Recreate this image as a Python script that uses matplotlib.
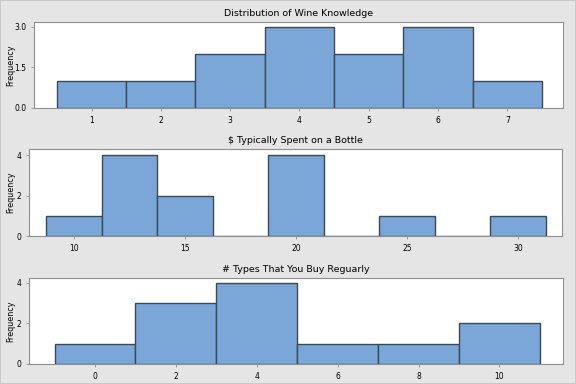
import numpy as np
import matplotlib
matplotlib.use('Agg')
import matplotlib.pyplot as plt
from matplotlib.patches import Rectangle

# panel 1: wine knowledge, bins centred on 1..7
knowledge_mid = [1, 2, 3, 4, 5, 6, 7]
knowledge_cnt = [1, 1, 2, 3, 2, 3, 1]

# panel 2: dollars spent, bins of width 2.5
spent_mid = [10, 12.5, 15, 17.5, 20, 22.5, 25, 27.5, 30]
spent_cnt = [1, 4, 2, 0, 4, 0, 1, 0, 1]

# panel 3: number of types bought, bins of width 2
types_mid = [0, 2, 4, 6, 8, 10]
types_cnt = [1, 3, 4, 1, 1, 2]

titles = ['Distribution of Wine Knowledge', '$ Typically Spent on a Bottle',
          '# Types That You Buy Reguarly']

bg = '#e5e5e5'
bar_color = '#7ba7d8'
edge_color = '#3b4858'
spine_color = '#8f8f8f'

fig = plt.figure(figsize=(5.76, 3.84), dpi=100, facecolor=bg)
fig.patches.append(Rectangle((0, 0), 1, 1, transform=fig.transFigure,
                             fill=False, edgecolor='#c4c4c4', linewidth=1.2))

panels = [
    # (mids, counts, width, axes rect, xlim, ylim, xticks, yticks, ytick labels)
    (knowledge_mid, knowledge_cnt, 1.0, [0.059, 0.7188, 0.918, 0.2247],
     (0.17, 7.8), (0, 3.18), [1, 2, 3, 4, 5, 6, 7], [0, 1.5, 3.0], ['0.0', '1.5', '3.0']),
    (spent_mid, spent_cnt, 2.5, [0.051, 0.3854, 0.924, 0.2266],
     (8.0, 31.95), (0, 4.3), [10, 15, 20, 25, 30], [0, 2, 4], ['0', '2', '4']),
    (types_mid, types_cnt, 2.0, [0.0498, 0.0521, 0.9268, 0.2247],
     (-1.64, 11.56), (0, 4.25), [0, 2, 4, 6, 8, 10], [0, 2, 4], ['0', '2', '4']),
]

for (mids, cnts, w, rect, xl, yl, xt, yt, ytl), title in zip(panels, titles):
    ax = fig.add_axes(rect)
    mids = np.array(mids, dtype=float)
    edges = np.append(mids - w / 2, mids[-1] + w / 2)
    ax.hist(mids, bins=edges, weights=cnts, color=bar_color,
            edgecolor=edge_color, linewidth=1.0)
    ax.set_xlim(*xl)
    ax.set_ylim(*yl)
    ax.set_xticks(xt)
    ax.set_xticklabels([str(v) for v in xt])
    ax.set_yticks(yt)
    ax.set_yticklabels(ytl)
    ax.tick_params(labelsize=5.5, length=2.5, width=0.6, color=spine_color, pad=3)
    for s in ax.spines.values():
        s.set_color(spine_color)
        s.set_linewidth(0.8)
    ax.set_title(title, fontsize=6.8, pad=4)
    ax.set_ylabel('Frequency', fontsize=5.8, va='center')
    # same figure x for every ylabel
    ax.yaxis.set_label_coords((11 / 576 - rect[0]) / rect[2], 0.5)

fig.savefig('out.png', dpi=100, facecolor=bg)
